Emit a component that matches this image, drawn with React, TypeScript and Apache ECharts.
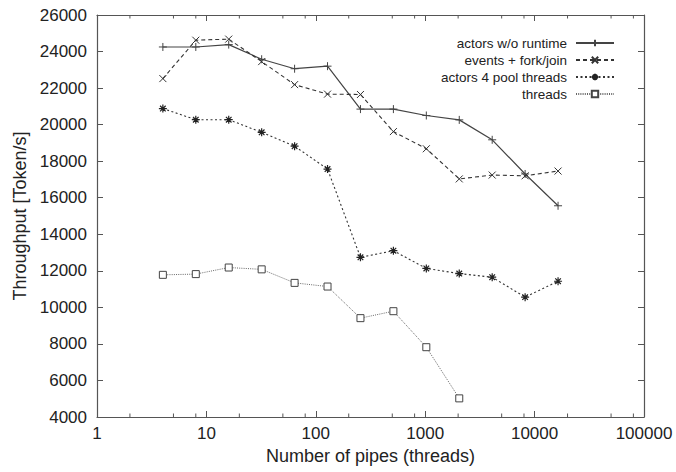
import React, { useEffect, useRef } from "react";
import * as echarts from "echarts";

const pipes = [4, 8, 16, 32, 64, 128, 256, 512, 1024, 2048, 4096, 8192, 16384];
const actorsNoRuntime = [24250, 24250, 24380, 23580, 23060, 23200, 20850, 20850, 20500, 20260, 19170, 17300, 15560];
const eventsForkJoin = [22520, 24620, 24680, 23450, 22190, 21670, 21650, 19620, 18680, 17030, 17240, 17200, 17460];
const actorsPool = [20880, 20270, 20270, 19580, 18820, 17570, 12740, 13100, 12130, 11850, 11650, 10560, 11430];
const threadsSeries = [11780, 11820, 12180, 12080, 11340, 11140, 9410, 9790, 7820, 5020];
const seriesNames = ["actors w/o runtime", "events + fork/join", "actors 4 pool threads", "threads"];
const yTicks = { min: 4000, max: 26000, interval: 2000 };
const xRange = { min: 1, max: 100000 };
const minorTickValues = [2, 5, 8, 20, 50, 80, 200, 500, 800, 2000, 5000, 8000, 20000, 50000, 80000];

const FONT = "'Liberation Sans', Arial, Helvetica, sans-serif";
const AX = "#555";

const plusPath = "path://M0,5L10,5M5,0L5,10";
const crossPath = "path://M0,0L10,10M10,0L0,10";
const starPath = "path://M0,5L10,5M5,0L5,10M1.5,1.5L8.5,8.5M8.5,1.5L1.5,8.5";

export default function App() {
  const ref = useRef<HTMLDivElement>(null);
  useEffect(() => {
    if (!ref.current) return;
    const chart = echarts.init(ref.current, null, { renderer: "svg" });
    const pair = (arr: number[]) => arr.map((v, i) => [pipes[i], v]);
    const commonHidden = {
      axisLabel: { show: false },
      splitLine: { show: false },
    };
    const tick = { show: true, inside: true, length: 6, lineStyle: { color: AX, width: 1 } };
    chart.setOption({
      animation: false,
      backgroundColor: "#fff",
      textStyle: { fontFamily: FONT, color: "#222" },
      grid: { left: 97, right: 32, top: 15, bottom: 55, containLabel: false },
      legend: {
        orient: "vertical",
        right: 56,
        top: 31,
        align: "right",
        itemWidth: 38,
        itemHeight: 8,
        itemGap: 3,
        textStyle: { fontFamily: FONT, fontSize: 13.5, color: "#222", padding: [0, 4, 0, 0] },
        data: seriesNames,
      },
      xAxis: [
        {
          type: "log",
          logBase: 10,
          min: xRange.min,
          max: xRange.max,
          position: "bottom",
          name: "Number of pipes (threads)",
          nameLocation: "middle",
          nameGap: 29,
          nameTextStyle: { fontFamily: FONT, fontSize: 18, color: "#222" },
          axisLine: { show: true, onZero: false, lineStyle: { color: AX, width: 1.2 } },
          axisTick: tick,
          axisLabel: { fontFamily: FONT, fontSize: 17, color: "#222", margin: 8, formatter: (v: number) => String(v) },
          splitLine: { show: false },
          minorTick: { show: false },
        },
        {
          type: "log",
          logBase: 10,
          min: xRange.min,
          max: xRange.max,
          position: "top",
          axisLine: { show: true, onZero: false, lineStyle: { color: AX, width: 1.2 } },
          axisTick: tick,
          ...commonHidden,
        },
      ],
      yAxis: [
        {
          type: "value",
          min: yTicks.min,
          max: yTicks.max,
          interval: yTicks.interval,
          position: "left",
          name: "Throughput [Token/s]",
          nameLocation: "middle",
          nameGap: 66,
          nameTextStyle: { fontFamily: FONT, fontSize: 18, color: "#222" },
          axisLine: { show: true, onZero: false, lineStyle: { color: AX, width: 1.2 } },
          axisTick: tick,
          axisLabel: { fontFamily: FONT, fontSize: 17, color: "#222", margin: 10, formatter: (v: number) => String(v) },
          splitLine: { show: false },
        },
        {
          type: "value",
          min: yTicks.min,
          max: yTicks.max,
          interval: yTicks.interval,
          position: "right",
          axisLine: { show: true, onZero: false, lineStyle: { color: AX, width: 1.2 } },
          axisTick: tick,
          ...commonHidden,
        },
      ],
      series: [
        {
          name: seriesNames[0],
          type: "line",
          data: pair(actorsNoRuntime),
          symbol: plusPath,
          symbolSize: 8,
          itemStyle: { color: "#444", borderColor: "#444", borderWidth: 1 },
          lineStyle: { color: "#444", width: 1.2, type: "solid" },
        },
        {
          name: seriesNames[1],
          type: "line",
          data: pair(eventsForkJoin),
          symbol: crossPath,
          symbolSize: 7,
          itemStyle: { color: "#333", borderColor: "#333", borderWidth: 1 },
          lineStyle: { color: "#333", width: 1.1, type: [4, 3] },
        },
        {
          name: seriesNames[2],
          type: "line",
          data: pair(actorsPool),
          symbol: starPath,
          symbolSize: 8,
          itemStyle: { color: "#222", borderColor: "#222", borderWidth: 1.2 },
          lineStyle: { color: "#333", width: 1.1, type: [2, 2.5] },
        },
        {
          name: seriesNames[3],
          type: "line",
          data: pair(threadsSeries),
          symbol: "rect",
          symbolSize: 7,
          itemStyle: { color: "#fff", borderColor: "#444", borderWidth: 1 },
          lineStyle: { color: "#666", width: 1, type: [1, 1.2] },
        },
      ],
    });

    // minor ticks of the log x axis (2, 5, 8 per decade), placed through the axis scale
    const yBottom = chart.convertToPixel({ yAxisIndex: 0 }, yTicks.min) as number;
    const yTop = chart.convertToPixel({ yAxisIndex: 0 }, yTicks.max) as number;
    const minorLines: any[] = [];
    minorTickValues.forEach((v) => {
      const x = chart.convertToPixel({ xAxisIndex: 0 }, v) as number;
      minorLines.push({
        type: "line",
        shape: { x1: x, y1: yBottom, x2: x, y2: yBottom - 3.5 },
        style: { stroke: AX, lineWidth: 1 },
        silent: true,
      });
      minorLines.push({
        type: "line",
        shape: { x1: x, y1: yTop, x2: x, y2: yTop + 3.5 },
        style: { stroke: AX, lineWidth: 1 },
        silent: true,
      });
    });
    chart.setOption({ graphic: minorLines });

    return () => chart.dispose();
  }, []);
  return (
    <div
      ref={ref}
      style={{ position: "absolute", left: 0, top: 0, width: 676, height: 472, background: "#fff" }}
    />
  );
}
